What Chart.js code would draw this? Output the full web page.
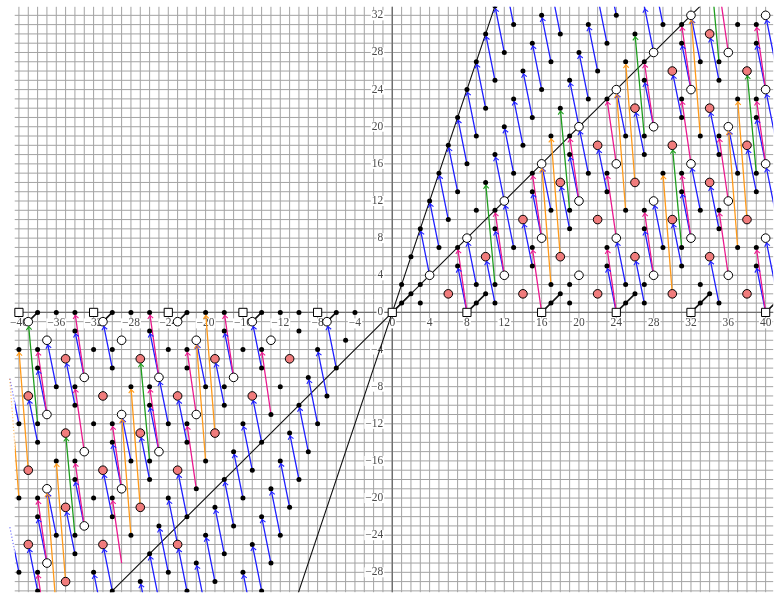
<!DOCTYPE html>
<html>
<head>
<meta charset="utf-8">
<script src="https://cdn.jsdelivr.net/npm/chart.js@4.4.1/dist/chart.umd.min.js"></script>
<style>
  html, body { margin: 0; padding: 0; background: #fff; }
  #wrap { width: 780px; height: 599px; }
</style>
</head>
<body>
<div id="wrap"><canvas id="chart" width="780" height="599"></canvas></div>
<script>
// chart window (data units)
const X_MIN = -41.3, X_MAX = 40.81;
const Y_MIN = -30.14, Y_MAX = 32.92;
const GRID_LEFT = -40.45;   // the drawing is clipped a little inside the left edge

// tick labels on the axes
const xTickLabels = [-40, -36, -32, -28, -24, -20, -16, -12, -8, -4, 0, 4, 8, 12, 16, 20, 24, 28, 32, 36, 40];
const yTickLabels = [32, 28, 24, 20, 16, 12, 8, 4, 0, -4, -8, -12, -16, -20, -24, -28];

// marks: [x, y]
const squares = [[-40,0],[-32,0],[-24,0],[-16,0],[-8,0],[0,0],[8,0],[16,0],[24,0],[32,0],[40,0]];

const openCircles = [
  [4,4],[8,8],[12,4],[12,12],[16,8],[16,16],[20,4],[20,12],[20,20],[24,8],[24,16],[24,24],
  [28,4],[28,12],[28,20],[28,28],[32,8],[32,16],[32,24],[32,32],[36,4],[36,12],[36,20],[36,28],
  [40,8],[40,16],[40,24],[40,32],
  [-39,-1],[-31,-1],[-23,-1],[-15,-1],[-7,-1],
  [-13,-3],[-17,-7],[-21,-11],[-25,-15],[-29,-19],[-33,-23],[-37,-27],
  [-21,-3],[-25,-7],[-29,-11],[-33,-15],[-37,-19],
  [-29,-3],[-33,-7],[-37,-11],[-37,-3]
];

const redCircles = [
  [6,2],[10,6],[14,2],[14,10],[18,6],[18,14],[22,2],[22,10],[22,18],[26,6],[26,14],[26,22],
  [30,2],[30,10],[30,18],[30,26],[34,6],[34,14],[34,22],[34,30],[38,2],[38,10],[38,18],[38,26],
  [-11,-5],[-15,-9],[-19,-13],[-23,-17],[-27,-21],[-31,-25],[-35,-29],
  [-19,-5],[-23,-9],[-27,-13],[-31,-17],[-35,-21],[-39,-25],
  [-27,-5],[-31,-9],[-35,-13],[-39,-17],[-35,-5],[-39,-9],[-23,-25]
];

const dots = [
  [1,1],[1,3],[2,2],[2,6],[3,1],[3,3],[3,9],[4,12],[5,7],[5,15],[6,10],[6,18],
  [7,5],[7,7],[7,13],[7,21],[8,16],[8,24],[9,1],[9,3],[9,11],[9,19],[9,27],
  [10,2],[10,14],[10,22],[10,30],[11,1],[11,3],[11,9],[11,11],[11,17],[11,25],[11,33],
  [12,20],[12,28],[13,7],[13,15],[13,23],[13,31],[14,18],[14,26],
  [15,5],[15,7],[15,13],[15,15],[15,21],[15,29],[16,24],[16,32],
  [17,1],[17,3],[17,11],[17,19],[17,27],[18,2],[18,22],[18,30],
  [19,1],[19,3],[19,9],[19,11],[19,17],[19,19],[19,25],[20,28],
  [21,15],[21,23],[21,31],[22,26],[23,5],[23,7],[23,13],[23,15],[23,23],[23,29],[24,32],
  [25,1],[25,3],[25,11],[25,19],[25,27],[26,2],[26,30],
  [27,1],[27,3],[27,9],[27,11],[27,17],[27,19],[27,25],[27,27],
  [29,7],[29,15],[29,31],[31,5],[31,7],[31,13],[31,15],[31,21],[31,23],[31,29],[31,31],
  [33,1],[33,3],[33,11],[33,19],[33,27],[34,2],
  [35,1],[35,9],[35,11],[35,17],[35,19],[35,25],[35,27],
  [37,7],[37,15],[37,23],[37,31],
  [39,5],[39,7],[39,13],[39,15],[39,21],[39,23],[39,29],[39,31],
  [-38,0],[-36,0],[-34,0],[-30,0],[-28,0],[-26,0],[-22,0],[-20,0],[-18,0],[-14,0],[-12,0],[-10,0],[-6,0],[-4,0],
  [-34,-2],[-26,-2],[-18,-2],[-10,-2],[-5,-3],
  [-40,-4],[-38,-4],[-32,-4],[-30,-4],[-24,-4],[-22,-4],[-16,-4],[-14,-4],[-8,-4],
  [-38,-6],[-30,-6],[-22,-6],[-14,-6],[-6,-6],[-9,-7],
  [-36,-8],[-34,-8],[-28,-8],[-26,-8],[-20,-8],[-18,-8],[-12,-8],[-7,-9],
  [-34,-10],[-26,-10],[-18,-10],[-10,-10],[-13,-11],
  [-40,-12],[-38,-12],[-32,-12],[-30,-12],[-24,-12],[-22,-12],[-16,-12],[-8,-12],[-11,-13],
  [-38,-14],[-30,-14],[-22,-14],[-14,-14],[-17,-15],[-9,-15],
  [-36,-16],[-34,-16],[-28,-16],[-26,-16],[-20,-16],[-12,-16],[-15,-17],
  [-34,-18],[-26,-18],[-18,-18],[-10,-18],[-21,-19],[-13,-19],
  [-40,-20],[-38,-20],[-32,-20],[-30,-20],[-24,-20],[-16,-20],[-19,-21],[-11,-21],
  [-38,-22],[-30,-22],[-22,-22],[-14,-22],[-25,-23],[-17,-23],
  [-36,-24],[-34,-24],[-28,-24],[-20,-24],[-12,-24],[-15,-25],
  [-34,-26],[-26,-26],[-18,-26],[-21,-27],[-13,-27],
  [-40,-28],[-38,-28],[-32,-28],[-24,-28],[-16,-28],[-27,-29],[-19,-29],
  [-38,-30],[-30,-30],[-22,-30],[-14,-30]
];

// black lines: [x0, y0, x1, y1]
const diagonalLines = [[-33,-33,42,42],[-11,-33,12,36]];
const shortLines = [
  [0,0,2,2],[8,0,10,2],[16,0,18,2],[24,0,26,2],[32,0,34,2],[40,0,42,2],
  [-39,-1,-38,0],[-31,-1,-30,0],[-23,-1,-22,0],[-15,-1,-14,0],[-7,-1,-6,0]
];

// differentials: [tailX, tailY, headX, headY]
const blueArrows = [
  [4,4,3,9],[5,7,4,12],[6,10,5,15],[7,13,6,18],[8,16,7,21],[9,19,8,24],[10,22,9,27],[11,25,10,30],[12,28,11,33],[13,31,12,36],
  [12,12,11,17],[13,15,12,20],[14,18,13,23],[15,21,14,26],[16,24,15,29],[17,27,16,32],[18,30,17,35],
  [20,20,19,25],[21,23,20,28],[22,26,21,31],[23,29,22,34],[24,32,23,37],
  [28,28,27,33],[29,31,28,36],
  [9,3,8,8],[11,1,10,6],[12,4,11,9],[13,7,12,12],[15,5,14,10],[16,8,15,13],[8,0,7,5],[17,11,16,16],
  [19,9,18,14],[20,12,19,17],[21,15,20,20],[23,13,22,18],[24,0,23,5],[25,3,24,8],[27,1,26,6],[28,4,27,9],
  [29,7,28,12],[31,5,30,10],[32,8,31,13],[33,11,32,16],[25,19,24,24],[27,17,26,22],[28,20,27,25],
  [31,21,30,26],[32,24,31,29],[33,27,32,32],[35,1,34,6],[35,9,34,14],[35,17,34,22],[35,25,34,30],
  [37,15,36,20],[39,13,38,18],[40,0,39,5],[40,16,39,21],[40,24,39,29],
  [41,3,40,8],[41,11,40,16],[41,19,40,24],[41,27,40,32],
  [-6,-6,-7,-1],[-7,-9,-8,-4],[-8,-12,-9,-7],[-9,-15,-10,-10],[-10,-18,-11,-13],[-11,-21,-12,-16],
  [-12,-24,-13,-19],[-13,-27,-14,-22],[-14,-30,-15,-25],[-15,-33,-16,-28],
  [-14,-14,-15,-9],[-15,-17,-16,-12],[-16,-20,-17,-15],[-17,-23,-18,-18],[-18,-26,-19,-21],
  [-19,-29,-20,-24],[-20,-32,-21,-27],[-21,-35,-22,-30],
  [-22,-22,-23,-17],[-23,-25,-24,-20],[-24,-28,-25,-23],[-25,-31,-26,-26],[-26,-34,-27,-29],
  [-30,-30,-31,-25],[-31,-33,-32,-28],
  [-14,-6,-15,-1],[-30,-6,-31,-1],[-36,-8,-37,-3],[-20,-8,-21,-3],[-34,-10,-35,-5],[-38,-14,-39,-9],
  [-22,-14,-23,-9],[-26,-18,-27,-13],[-18,-10,-19,-5],[-30,-22,-31,-17],[-34,-26,-35,-21],
  [-38,-30,-39,-25],[-22,-30,-23,-25],[-28,-16,-29,-11],[-36,-24,-37,-19],[-40,-12,-41,-7],
  [-40,-28,-41,-23],[-24,-12,-25,-7],
  [-33,-7,-34,-2],[-25,-7,-26,-2],[-17,-7,-18,-2],[-37,-11,-38,-6],[-25,-15,-26,-10],
  [-29,-19,-30,-14],[-33,-23,-34,-18],[-37,-27,-38,-22]
];

const pinkArrows = [
  [8,0,7,7],[12,4,11,11],[16,0,15,7],[16,8,15,15],[20,12,19,19],[24,0,23,7],[24,8,23,15],[24,16,23,23],
  [28,4,27,11],[28,20,27,27],[32,8,31,15],[32,16,31,23],[32,24,31,31],[36,4,35,11],[36,12,35,19],
  [36,28,35,35],[40,0,39,7],[40,16,39,23],[40,24,39,31],
  [-33,-7,-34,0],[-25,-7,-26,0],[-17,-7,-18,0],[-37,-11,-38,-4],[-21,-11,-22,-4],[-13,-11,-14,-4],
  [-33,-15,-34,-8],[-25,-15,-26,-8],[-29,-19,-30,-12],[-21,-19,-22,-12],[-33,-23,-34,-16],
  [-37,-27,-38,-20],[-29,-27,-30,-20],[-37,-35,-38,-28]
];

const greenArrows = [
  [11,3,10,14],[19,11,18,22],[27,19,26,30],[31,7,30,18],[35,27,34,38],[39,15,38,26],
  [-38,-12,-39,-1],[-26,-16,-27,-5],[-34,-24,-35,-13]
];

const orangeArrows = [
  [17,3,16,16],[18,6,17,19],[25,11,24,24],[26,14,25,27],[30,2,29,15],[33,19,32,32],[37,7,36,20],[38,10,37,23],
  [-39,-17,-40,-4],[-40,-20,-41,-7],[-35,-29,-36,-16],[-36,-32,-37,-19],[-27,-21,-28,-8],
  [-28,-24,-29,-11],[-19,-13,-20,0],[-20,-16,-21,-3]
];

const COLORS = { blue: '#1f1fff', pink: '#ea1a8e', green: '#1e9e1e', orange: '#ff9a1a', red: '#f07c7c' };
const ARROW_GROUPS = [[blueArrows, COLORS.blue], [pinkArrows, COLORS.pink], [greenArrows, COLORS.green], [orangeArrows, COLORS.orange]];

const toPts = arr => arr.map(([x, y]) => ({ x, y }));
const toSegs = arr => arr.flatMap(([a, b, c, d]) => [{ x: a, y: b }, { x: c, y: d }, { x: c, y: null }]);

const bigMarks = new Set([...openCircles, ...redCircles, ...squares].map(p => p.join(',')));
const LEFT_CUT = (GRID_LEFT - X_MIN) * 780 / (X_MAX - X_MIN);   // pixels hidden on the left

function lineSet(arr, color, width, order) {
  return {
    type: 'line', data: toSegs(arr), borderColor: color, borderWidth: width,
    pointRadius: 0, spanGaps: false, order, tension: 0,
    clip: { left: -LEFT_CUT, top: 0, right: 0, bottom: 0 }
  };
}

function markSet(arr, style, radius, fill, border, order) {
  return {
    type: 'scatter', data: toPts(arr), pointStyle: style, pointRadius: radius,
    backgroundColor: fill, borderColor: border, borderWidth: border ? 1 : 0, order
  };
}

// grid, axes and tick labels drawn under the data
const backdrop = {
  id: 'backdrop',
  beforeDatasetsDraw(chart) {
    const { ctx, chartArea: a, scales: { x, y } } = chart;
    const gl = x.getPixelForValue(GRID_LEFT);
    ctx.save();
    ctx.strokeStyle = '#a3a3a3';
    ctx.lineWidth = 1;
    ctx.beginPath();
    for (let v = Math.ceil(GRID_LEFT); v <= X_MAX; v++) {
      const px = x.getPixelForValue(v);
      ctx.moveTo(px, a.top); ctx.lineTo(px, a.bottom);
    }
    for (let v = Math.ceil(Y_MIN); v <= Y_MAX; v++) {
      const py = y.getPixelForValue(v);
      ctx.moveTo(gl, py); ctx.lineTo(a.right, py);
    }
    ctx.stroke();

    const x0 = x.getPixelForValue(0), y0 = y.getPixelForValue(0);
    ctx.strokeStyle = '#707070';
    ctx.lineWidth = 1.4;
    ctx.beginPath();
    ctx.moveTo(x0, a.top); ctx.lineTo(x0, a.bottom);
    ctx.moveTo(gl, y0); ctx.lineTo(a.right, y0);
    ctx.stroke();

    // faint dotted stubs where differentials leave the grid on the left
    ctx.save();
    ctx.beginPath();
    ctx.rect(a.left, a.top, gl - a.left, a.bottom - a.top);
    ctx.clip();
    ctx.setLineDash([1.2, 2]);
    ctx.globalAlpha = 0.6;
    ctx.lineWidth = 1.2;
    ARROW_GROUPS.forEach(([arr, color]) => {
      ctx.strokeStyle = color;
      arr.filter(r => Math.min(r[0], r[2]) < GRID_LEFT).forEach(([tx, ty, hx, hy]) => {
        ctx.beginPath();
        ctx.moveTo(x.getPixelForValue(tx), y.getPixelForValue(ty));
        ctx.lineTo(x.getPixelForValue(hx), y.getPixelForValue(hy));
        ctx.stroke();
      });
    });
    ctx.restore();

    ctx.font = '11.5px "Liberation Serif", "DejaVu Serif", serif';
    ctx.textBaseline = 'middle';
    const label = (txt, px, py, align) => {
      const w = ctx.measureText(txt).width;
      const left = align === 'right' ? px - w : px - w / 2;
      ctx.fillStyle = '#fff';
      ctx.fillRect(left - 1, py - 5, w + 2, 10);
      ctx.fillStyle = '#4a4a4a';
      ctx.textAlign = align;
      ctx.fillText(txt, px, py);
    };
    const fmt = v => (v < 0 ? '\u2212' + (-v) : String(v));
    xTickLabels.forEach(v => label(fmt(v), x.getPixelForValue(v), y0 + 11, 'center'));
    yTickLabels.forEach(v => label(fmt(v), x0 - 9, y.getPixelForValue(v), 'right'));
    ctx.restore();
  }
};

// small open arrow tips at the head end of each differential
const arrowTips = {
  id: 'arrowTips',
  afterDatasetsDraw(chart) {
    const { ctx, chartArea: a, scales: { x, y } } = chart;
    const gl = x.getPixelForValue(GRID_LEFT);
    ctx.save();
    ctx.beginPath();
    ctx.rect(gl, a.top, a.right - gl, a.bottom - a.top);
    ctx.clip();
    ctx.lineWidth = 1.1;
    ARROW_GROUPS.forEach(([arr, color]) => {
      ctx.strokeStyle = color;
      arr.forEach(([tx, ty, hx, hy]) => {
        const px0 = x.getPixelForValue(tx), py0 = y.getPixelForValue(ty);
        const px1 = x.getPixelForValue(hx), py1 = y.getPixelForValue(hy);
        const len = Math.hypot(px1 - px0, py1 - py0);
        const ux = (px1 - px0) / len, uy = (py1 - py0) / len;
        const back = bigMarks.has(hx + ',' + hy) ? 5 : 3;
        const tipX = px1 - ux * back, tipY = py1 - uy * back;
        const ang = Math.atan2(-uy, -ux), spread = 0.7, arm = 4.2;
        ctx.beginPath();
        ctx.moveTo(tipX + arm * Math.cos(ang + spread), tipY + arm * Math.sin(ang + spread));
        ctx.lineTo(tipX, tipY);
        ctx.lineTo(tipX + arm * Math.cos(ang - spread), tipY + arm * Math.sin(ang - spread));
        ctx.stroke();
      });
    });
    ctx.restore();
  }
};

new Chart(document.getElementById('chart'), {
  type: 'scatter',
  data: {
    datasets: [
      markSet(squares, 'rect', 5.8, '#fff', '#000', 0),
      markSet(redCircles, 'circle', 4.3, COLORS.red, '#000', 1),
      markSet(openCircles, 'circle', 4.3, '#fff', '#000', 2),
      markSet(dots, 'circle', 2.5, '#000', null, 3),
      lineSet(orangeArrows, COLORS.orange, 1.3, 6),
      lineSet(greenArrows, COLORS.green, 1.3, 7),
      lineSet(pinkArrows, COLORS.pink, 1.3, 8),
      lineSet(blueArrows, COLORS.blue, 1.3, 9),
      lineSet(shortLines, '#111', 1.6, 10),
      lineSet(diagonalLines, '#111', 1.1, 11)
    ]
  },
  options: {
    responsive: false,
    animation: false,
    devicePixelRatio: 1,
    layout: { padding: 0 },
    plugins: { legend: { display: false }, tooltip: { enabled: false } },
    scales: {
      x: { type: 'linear', display: false, min: X_MIN, max: X_MAX },
      y: { type: 'linear', display: false, min: Y_MIN, max: Y_MAX }
    }
  },
  plugins: [backdrop, arrowTips]
});
</script>
</body>
</html>
